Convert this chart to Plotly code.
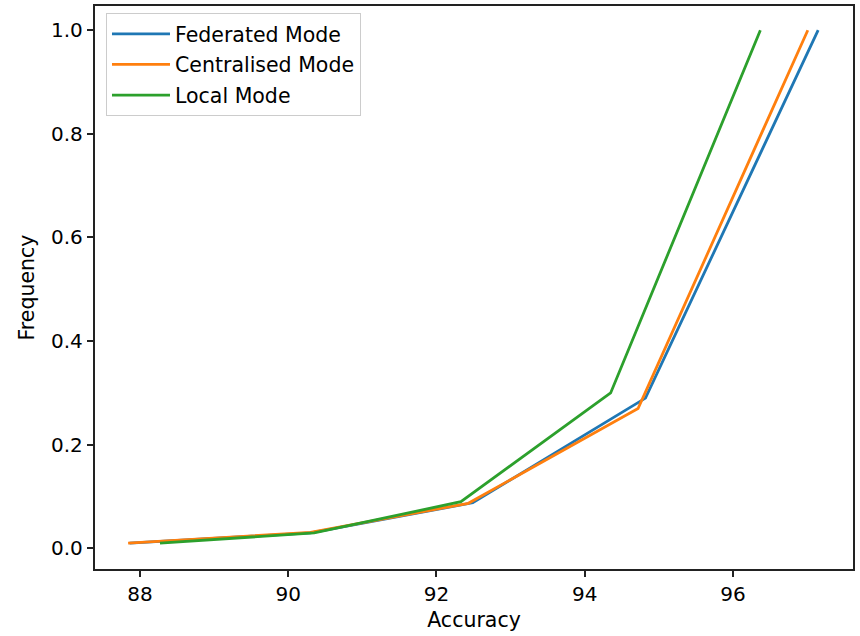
import plotly.graph_objects as go

fed_x = [87.86, 90.30, 92.49, 94.82, 97.15]
fed_y = [0.01, 0.03, 0.088, 0.29, 1.0]
cen_x = [87.84, 90.30, 92.43, 94.72, 97.01]
cen_y = [0.01, 0.031, 0.087, 0.27, 1.0]
loc_x = [88.27, 90.35, 92.33, 94.35, 96.37]
loc_y = [0.01, 0.03, 0.09, 0.30, 1.0]

x_ticks = [88, 90, 92, 94, 96]
y_ticks = [0.0, 0.2, 0.4, 0.6, 0.8, 1.0]

TICKFONT = dict(family="DejaVu Sans", size=20, color="black")
FONT = dict(family="DejaVu Sans", size=20.5, color="black")

fig = go.Figure()
series = [
    ("Federated Mode", fed_x, fed_y, "#1f77b4"),
    ("Centralised Mode", cen_x, cen_y, "#ff7f0e"),
    ("Local Mode", loc_x, loc_y, "#2ca02c"),
]
for i, (name, xs, ys, col) in enumerate(series):
    fig.add_trace(go.Scatter(x=xs, y=ys, mode="lines", name=name,
                             legendgroup=f"g{i}",
                             line=dict(color=col, width=2.8)))

axis_common = dict(showgrid=False, zeroline=False, showline=True, mirror=True,
                   linecolor="#222", linewidth=1.5, ticks="outside", ticklen=6.5,
                   tickwidth=1.5, tickcolor="#222", tickfont=TICKFONT)

fig.update_layout(
    width=860, height=636,
    margin=dict(l=95, r=7, t=4, b=67),
    paper_bgcolor="white", plot_bgcolor="white",
    font=FONT,
    xaxis=dict(range=[87.393, 97.62], tickvals=x_ticks,
               title=dict(text="Accuracy", font=FONT, standoff=7), **axis_common),
    yaxis=dict(range=[-0.0398, 1.0467], tickvals=y_ticks, tickformat=".1f",
               title=dict(text="Frequency", font=FONT, standoff=11), **axis_common),
    legend=dict(x=0.0145, y=0.9876, xanchor="left", yanchor="top",
                bgcolor="white", bordercolor="#cccccc", borderwidth=1,
                font=FONT, tracegroupgap=1, itemwidth=58),
    showlegend=True,
)

fig.write_html("out.html")
